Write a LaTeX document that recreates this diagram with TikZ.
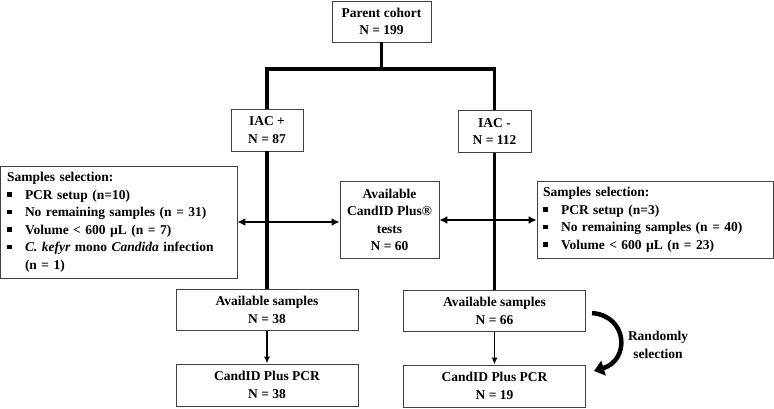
\documentclass[tikz,border=0pt]{standalone}
\usepackage{fontspec}
\setmainfont{Liberation Serif}
\usetikzlibrary{arrows.meta}
\newcommand{\itm}{\makebox[18pt][l]{\rule[2.5pt]{4.5pt}{4.5pt}}}

\begin{document}
\begin{tikzpicture}[x=1pt,y=-1pt,
    box/.style={draw=black!75,line width=0.8pt,align=center,inner sep=2pt,
        font=\fontsize{13.5}{17.5}\selectfont\bfseries},
    listbox/.style={box,align=left,minimum height=#1},
    trunk/.style={line width=3.4pt},
    twoway/.style={line width=2.2pt,{Latex[length=8pt,width=8pt]}-{Latex[length=8pt,width=8pt]}},
    oneway/.style={line width=1.6pt,-{Latex[length=7pt,width=6pt]}},
    curved/.style={line width=4.5pt,-{Triangle[length=10pt,width=15pt]}}
]
\useasboundingbox (0,0) rectangle (774,408);

\node[box,minimum width=99pt,minimum height=41pt] (parent) at (381.5,21.5) {Parent cohort\\N = 199};
\node[box,minimum width=72pt,minimum height=42pt] (iacpos) at (267,130) {IAC +\\N = 87};
\node[box,minimum width=73pt,minimum height=42pt] (iacneg) at (494.5,131.5) {IAC -\\N = 112};

\node[listbox=112pt,text width=223pt,inner xsep=7pt] (selpos) at (118.5,222) {Samples selection:\\
    \itm PCR setup (n=10)\\
    \itm No remaining samples (n = 31)\\
    \itm Volume < 600 µL (n = 7)\\
    \itm \textit{C. kefyr} mono \textit{Candida} infection\\
    \hspace*{18pt}(n = 1)};
\node[box,minimum width=99pt,minimum height=77pt] (tests) at (389.5,220) {Available\\CandID Plus®\\tests\\N = 60};
\node[listbox=77pt,text width=224pt,inner xsep=6pt] (selneg) at (655,219.5) {Samples selection:\\
    \itm PCR setup (n=3)\\
    \itm No remaining samples (n = 40)\\
    \itm Volume < 600 µL (n = 23)};

\node[box,minimum width=182pt,minimum height=41pt] (availpos) at (267,310) {Available samples\\N = 38};
\node[box,minimum width=182pt,minimum height=41pt] (availneg) at (494.5,311) {Available samples\\N = 66};
\node[box,minimum width=182pt,minimum height=42pt] (pcrpos) at (267,385) {CandID Plus PCR\\N = 38};
\node[box,minimum width=182pt,minimum height=42pt] (pcrneg) at (494.5,386) {CandID Plus PCR\\N = 19};

\coordinate (split) at (381.5,69);
\coordinate (randstart) at (592,313);
\coordinate (randend) at (594,371);

\draw[trunk] (parent.south) -- (split);
\draw[trunk] (iacpos.north) |- (split) -| (iacneg.north);
\draw[trunk] (iacpos.south) -- (availpos.north);
\draw[trunk] (iacneg.south) -- (availneg.north);

\draw[twoway] (selpos.east) -- (selpos.east -| tests.west);
\draw[twoway] (tests.east) -- (tests.east -| selneg.west);

\draw[oneway] (availpos.south) -- (pcrpos.north);
\draw[oneway] (availneg.south) -- (pcrneg.north);

\draw[curved] (randstart) .. controls (628,316) and (630,360) .. (randend);
\node[font=\fontsize{13.5}{17.5}\selectfont\bfseries,align=center] (random) at (658,345) {Randomly\\selection};
\end{tikzpicture}
\end{document}
